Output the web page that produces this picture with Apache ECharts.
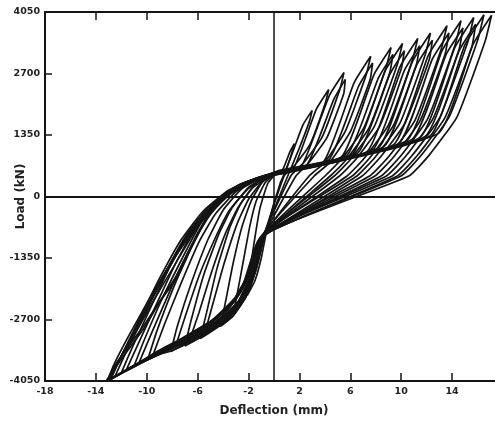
<!DOCTYPE html>
<html>
<head>
<meta charset="utf-8">
<script src="https://cdn.jsdelivr.net/npm/echarts@6/dist/echarts.min.js"></script>
<style>
  html, body { margin: 0; padding: 0; background: #fff; }
  #chart { width: 495px; height: 424px; }
</style>
</head>
<body>
<div id="chart"></div>
<script>
// Axis tick values
const xTickValues = [-18, -14, -10, -6, -2, 2, 6, 10, 14];
const xTopTickValues = [-14, -10, -6, -2, 2, 6, 10, 14];
const yTickValues = [-4050, -2700, -1350, 0, 1350, 2700, 4050];

// Load–deflection cycles, [deflection (mm), load (kN)]
const cycle01 = [[0.1,500],[0.7,600],[1.25,980],[1.6,1160],[1.45,1000],[1.0,620],[0.5,300],[-0.5,-650],[-1.0,-1350],[-1.5,-1850],[-2.1,-2170],[-1.9,-1650],[-1.5,-900],[-1.1,-250],[-0.5,280],[0.2,520]];
const cycle02 = [[0.2,520],[0.9,580],[2.26,1563],[3.0,1890],[2.8,1660],[1.9,1000],[0.9,330],[-0.6,-720],[-1.3,-1500],[-2.0,-2080],[-2.6,-2380],[-3.2,-2570],[-2.9,-2150],[-2.4,-1400],[-1.9,-650],[-1.4,-100],[-0.7,300],[0.0,480]];
const cycle03 = [[0.0,480],[1.51,600],[3.32,1912],[4.3,2350],[4.03,2046],[2.85,1153],[1.66,697],[0.8,450],[-0.7,-780],[-1.4,-1550],[-2.2,-2200],[-3.2,-2620],[-4.2,-2850],[-3.8,-2300],[-3.2,-1450],[-2.5,-650],[-1.8,-100],[-0.9,320],[0.3,540]];
const cycle04 = [[0.3,540],[2.19,680],[4.34,2210],[5.5,2720],[5.18,2357],[3.76,1290],[2.35,745],[1.32,450],[-0.8,-830],[-1.5,-1650],[-2.3,-2230],[-3.6,-2700],[-5.8,-3120],[-5.3,-2550],[-4.5,-1600],[-3.5,-700],[-2.6,-150],[-1.3,330],[0.1,500]];
const cycle04b = [[0.1,500],[2.6,700],[4.7,2130],[5.6,2570],[5.48,2257],[4.16,1290],[2.75,745],[1.72,450],[-0.7,-800],[-1.7,-1550],[-2.6,-2100],[-3.8,-2550],[-5.4,-2950],[-4.8,-2350],[-3.9,-1450],[-2.9,-600],[-2.0,-60],[-0.9,340],[0.1,500]];
const cycle05 = [[0.1,500],[3.89,760],[6.3,2500],[7.6,3080],[7.23,2659],[5.59,1423],[3.95,738],[2.76,450],[-0.6,-760],[-1.4,-1600],[-2.2,-2200],[-3.6,-2680],[-5.4,-3030],[-7.0,-3280],[-6.5,-2700],[-5.5,-1700],[-4.3,-800],[-3.3,-250],[-2.0,200],[-0.8,400],[0.2,520]];
const cycle05b = [[0.2,520],[4.3,800],[6.65,2420],[7.75,2930],[7.55,2560],[6.0,1423],[4.35,738],[3.16,450],[-0.9,-840],[-1.9,-1600],[-2.8,-2150],[-4.2,-2600],[-6.6,-3130],[-5.9,-2550],[-4.9,-1650],[-3.8,-800],[-2.8,-230],[-1.6,210],[0.4,560]];
const cycle06 = [[0.4,560],[5.34,880],[7.85,2672],[9.2,3270],[8.8,2819],[7.04,1493],[5.29,817],[4.01,450],[-1.0,-880],[-1.7,-1680],[-2.5,-2250],[-3.8,-2700],[-5.8,-3070],[-8.1,-3400],[-7.6,-2850],[-6.5,-1900],[-5.2,-950],[-4.0,-300],[-2.5,180],[-1.0,400],[0.2,500]];
const cycle06b = [[0.2,500],[5.75,910],[8.2,2600],[9.35,3120],[9.1,2720],[7.45,1493],[5.7,817],[4.42,450],[-0.7,-810],[-1.9,-1620],[-2.9,-2180],[-4.4,-2640],[-6.3,-3000],[-7.7,-3260],[-7.0,-2650],[-5.9,-1750],[-4.6,-900],[-3.5,-300],[-2.0,180],[-0.6,420],[0.2,520]];
const cycle07 = [[0.2,520],[6.19,935],[8.73,2754],[10.1,3360],[9.69,2894],[7.87,1527],[6.06,828],[4.74,450],[-0.7,-800],[-1.6,-1700],[-2.4,-2260],[-3.9,-2750],[-6.2,-3120],[-8.3,-3370],[-9.9,-3560],[-9.2,-2950],[-7.9,-2000],[-6.4,-1050],[-5.0,-330],[-3.4,120],[-1.5,380],[0.3,540]];
const cycle07b = [[0.3,540],[6.6,960],[9.1,2680],[10.25,3200],[10.0,2800],[8.28,1527],[6.47,828],[5.15,450],[-1.0,-880],[-2.0,-1700],[-3.0,-2250],[-4.6,-2700],[-6.8,-3100],[-8.6,-3330],[-9.5,-3470],[-8.6,-2800],[-7.3,-1900],[-5.9,-1000],[-4.6,-380],[-3.0,100],[-1.2,390],[0.0,470]];
const cycle08 = [[0.0,470],[7.33,990],[9.91,2850],[11.3,3470],[10.87,2987],[8.99,1567],[7.11,844],[5.74,450],[-0.9,-850],[-1.7,-1700],[-2.5,-2240],[-4.0,-2730],[-6.5,-3130],[-9.0,-3460],[-11.0,-3720],[-10.2,-3150],[-8.8,-2250],[-7.2,-1350],[-5.7,-560],[-4.2,-60],[-2.5,280],[-1.0,420],[0.0,470]];
const cycle08b = [[0.0,470],[7.75,1020],[10.25,2770],[11.45,3310],[11.2,2900],[9.4,1567],[7.52,844],[6.15,450],[-0.6,-760],[-1.9,-1650],[-3.0,-2200],[-4.8,-2700],[-7.3,-3120],[-9.2,-3400],[-10.6,-3640],[-9.7,-3050],[-8.3,-2150],[-6.8,-1250],[-5.3,-500],[-3.8,-20],[-2.0,300],[-0.6,460],[0.3,540]];
const cycle09 = [[0.3,540],[8.24,1080],[10.88,2962],[12.3,3590],[11.86,3088],[9.9,1612],[7.94,860],[6.52,450],[-1.1,-920],[-1.8,-1720],[-2.6,-2250],[-4.2,-2760],[-6.8,-3160],[-9.5,-3520],[-12.0,-3870],[-11.2,-3350],[-9.8,-2500],[-8.2,-1550],[-6.6,-750],[-5.0,-200],[-3.0,220],[-1.2,420],[0.3,540]];
const cycle09b = [[0.3,540],[8.65,1100],[11.2,2880],[12.45,3430],[12.2,3000],[10.3,1612],[8.35,860],[6.93,450],[-1.2,-950],[-2.2,-1800],[-3.2,-2300],[-5.2,-2800],[-8.0,-3260],[-10.0,-3560],[-11.6,-3800],[-10.7,-3250],[-9.3,-2400],[-7.7,-1450],[-6.1,-650],[-4.5,-120],[-2.6,250],[-0.9,440],[0.1,500]];
const cycle10 = [[0.1,500],[9.41,1140],[12.13,3098],[13.6,3750],[13.13,3222],[11.08,1671],[9.02,879],[7.52,450],[-0.8,-820],[-1.6,-1650],[-2.5,-2200],[-4.3,-2720],[-7.0,-3150],[-10.0,-3560],[-12.8,-4000],[-12.0,-3500],[-10.6,-2700],[-9.0,-1800],[-7.3,-950],[-5.6,-330],[-3.6,130],[-1.4,400],[0.1,500]];
const cycle10b = [[0.1,500],[9.8,1165],[12.45,3020],[13.75,3590],[13.45,3130],[11.5,1671],[9.43,879],[7.93,450],[-0.9,-850],[-2.1,-1780],[-3.1,-2300],[-5.2,-2820],[-8.3,-3300],[-10.6,-3650],[-12.5,-3950],[-11.6,-3400],[-10.1,-2550],[-8.5,-1650],[-6.9,-850],[-5.2,-250],[-3.2,170],[-1.2,410],[0.5,580]];
const cycle11 = [[0.5,580],[10.44,1230],[13.21,3202],[14.7,3860],[14.22,3314],[12.09,1712],[9.97,893],[8.42,450],[-1.0,-870],[-1.9,-1750],[-2.8,-2300],[-4.6,-2800],[-7.5,-3250],[-10.4,-3640],[-13.0,-4040],[-12.3,-3650],[-11.2,-3150],[-9.6,-2350],[-7.8,-1500],[-6.2,-750],[-4.8,-260],[-2.8,250],[-1.1,420],[0.4,560]];
const cycle11b = [[0.4,560],[10.85,1255],[13.55,3130],[14.85,3700],[14.55,3230],[12.5,1712],[10.38,893],[8.83,450],[-0.7,-800],[-2.2,-1800],[-3.4,-2380],[-5.6,-2900],[-8.6,-3380],[-11.0,-3740],[-12.9,-4020],[-12.0,-3500],[-10.6,-2750],[-9.0,-1900],[-7.4,-1100],[-5.9,-520],[-4.2,-30],[-2.2,300],[-0.6,460],[0.2,520]];
const cycle12 = [[0.2,520],[11.44,1286],[14.21,3269],[15.7,3930],[15.21,3373],[13.04,1738],[10.87,904],[9.29,450],[-0.7,-790],[-1.5,-1600],[-2.3,-2150],[-4.0,-2650],[-6.9,-3100],[-10.1,-3580],[-13.1,-4050],[-12.6,-3700],[-11.4,-3050],[-9.9,-2300],[-8.2,-1500],[-6.7,-900],[-5.2,-350],[-3.2,180],[-1.3,410],[0.2,520]];
const cycle12b = [[0.2,520],[11.85,1310],[14.55,3200],[15.85,3780],[15.55,3290],[13.45,1738],[11.28,904],[9.7,450],[-1.0,-880],[-2.4,-1900],[-3.6,-2450],[-6.0,-2980],[-9.2,-3460],[-11.5,-3790],[-13.0,-4040],[-12.2,-3600],[-11.0,-2980],[-9.4,-2150],[-7.7,-1300],[-6.3,-700],[-4.6,-180],[-2.6,260],[-0.9,440],[0.0,490]];
const cycle13 = [[0.0,490],[12.22,1320],[15.0,3322],[16.5,3990],[16.0,3424],[13.79,1760],[11.59,910],[9.98,450],[-0.9,-860],[-2.0,-1850],[-3.0,-2400],[-5.0,-2900],[-8.0,-3330],[-10.8,-3700],[-13.2,-4050],[-12.8,-3890],[-11.5,-3380],[-10.2,-2880],[-8.9,-2280],[-7.6,-1780],[-6.6,-1190],[-5.8,-750],[-4.8,-310],[-3.0,160],[-1.1,420],[0.3,550]];
const cycle14 = [[0.3,550],[12.91,1385],[15.63,3331],[17.1,3980],[16.6,3415],[14.4,1756],[12.2,909],[10.6,450],[-0.8,-830],[-1.7,-1700],[-2.6,-2260],[-4.1,-2780],[-5.9,-3110],[-8.1,-3390],[-9.9,-3540],[-13.1,-4040],[-12.6,-3750],[-11.6,-3350],[-10.4,-2900],[-9.1,-2350],[-7.8,-1800],[-6.8,-1250],[-6.0,-800],[-5.0,-350],[-3.8,20],[-2.4,280],[-1.0,420],[0.2,520]];

const cycles = [cycle01, cycle02, cycle03, cycle04, cycle04b, cycle05, cycle05b,
                cycle06, cycle06b, cycle07, cycle07b, cycle08, cycle08b, cycle09,
                cycle09b, cycle10, cycle10b, cycle11, cycle11b, cycle12, cycle12b,
                cycle13, cycle14];

const ink = '#141414';
const labelFont = '"DejaVu Sans", "Liberation Sans", sans-serif';

const series = cycles.map(function (pts, i) {
  const s = {
    type: 'line',
    data: pts,
    symbol: 'none',
    smooth: 0.15,
    animation: false,
    silent: true,
    lineStyle: { color: ink, width: 1.7 }
  };
  if (i === 0) {
    // zero reference lines through the origin
    s.markLine = {
      silent: true,
      symbol: ['none', 'none'],
      label: { show: false },
      animation: false,
      lineStyle: { color: ink, width: 2, type: 'solid' },
      data: [{ xAxis: 0, lineStyle: { width: 1.5 } }, { yAxis: 0 }]
    };
  }
  return s;
});

const chart = echarts.init(document.getElementById('chart'), null, { renderer: 'canvas' });
chart.setOption({
  backgroundColor: '#ffffff',
  animation: false,
  grid: { left: 45, right: -8, top: 12, bottom: 43, containLabel: false, outerBoundsMode: 'none' },
  xAxis: [
    {
      type: 'value', min: -18, max: 18, position: 'bottom',
      axisLine: { show: true, onZero: false, lineStyle: { color: ink, width: 2 } },
      axisTick: { show: true, inside: true, length: 8, customValues: xTickValues, lineStyle: { color: ink, width: 1.5 } },
      axisLabel: {
        customValues: xTickValues, margin: 6, color: '#222', fontSize: 9.5, fontWeight: 'bold',
        fontFamily: labelFont, formatter: function (v) { return String(v); }
      },
      splitLine: { show: false },
      name: 'Deflection (mm)', nameLocation: 'middle', nameGap: 24, nameMoveOverlap: false,
      nameTextStyle: { color: '#222', fontSize: 12, fontWeight: 'bold', fontFamily: labelFont }
    },
    {
      type: 'value', min: -18, max: 18, position: 'top',
      axisLine: { show: true, onZero: false, lineStyle: { color: ink, width: 2 } },
      axisTick: { show: true, inside: true, length: 8, customValues: xTopTickValues, lineStyle: { color: ink, width: 1.5 } },
      axisLabel: { show: false },
      splitLine: { show: false }
    }
  ],
  yAxis: {
    type: 'value', min: -4050, max: 4050, interval: 1350,
    axisLine: { show: true, onZero: false, lineStyle: { color: ink, width: 2 } },
    axisTick: { show: true, inside: true, length: 7, lineStyle: { color: ink, width: 1.5 } },
    axisLabel: {
      margin: 5, color: '#222', fontSize: 9.5, fontWeight: 'bold', fontFamily: labelFont,
      formatter: function (v) { return String(v); }
    },
    splitLine: { show: false },
    name: 'Load (kN)', nameLocation: 'middle', nameGap: 18, nameRotate: 90, nameMoveOverlap: false,
    nameTextStyle: { color: '#222', fontSize: 12, fontWeight: 'bold', fontFamily: labelFont }
  },
  series: series
});
</script>
</body>
</html>
